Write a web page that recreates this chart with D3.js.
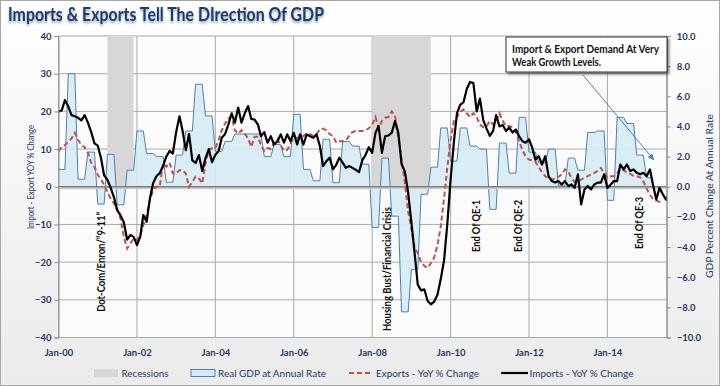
<!DOCTYPE html>
<html><head><meta charset="utf-8">
<script src="https://cdn.jsdelivr.net/npm/d3@7"></script>
<style>body{margin:0;background:#fff}svg{display:block}</style>
</head><body>
<svg id="c" width="720" height="386"></svg>
<script>
// ---------------- DATA ----------------
const firstMonth = "2000-01-01";
const lastAxisDate = "2015-07-07";
// Imports - YoY % change, monthly from Jan 2000
const importsYoY = [
 19.9,20.3,23.0,21.3,19.0,18.7,18.3,17.6,19.0,17.0,14.5,11.5,
 10.9,7.5,3.0,1.8,-0.3,-2.8,-6.2,-7.6,-9.5,-14.0,-12.8,-13.3,
 -15.5,-13.2,-7.5,-9.3,-3.2,1.0,2.8,3.6,5.5,8.0,9.5,8.8,
 14.5,18.7,15.0,9.7,14.0,7.0,6.3,8.4,4.2,7.5,10.0,6.5,
 8.5,9.5,13.0,14.0,16.5,19.5,17.0,21.0,17.0,19.5,21.4,18.0,
 17.8,16.5,13.4,14.5,11.7,13.4,11.2,12.0,13.9,11.7,13.9,12.1,
 14.3,11.2,13.9,11.2,13.9,13.4,13.0,13.9,10.8,5.5,6.8,7.7,
 4.6,5.9,7.7,6.4,5.0,5.5,5.0,4.5,3.9,7.0,8.5,10.5,
 9.0,14.3,16.1,9.0,13.4,13.6,14.3,17.4,14.3,6.0,4.0,-1.5,
 -9.5,-18.0,-26.0,-27.5,-27.2,-30.3,-31.2,-30.5,-28.6,-24.5,-19.5,-10.0,
 2.0,12.0,19.5,21.8,22.4,26.0,27.8,27.5,20.0,23.4,17.7,15.5,
 13.5,14.8,19.0,16.0,16.4,14.8,15.7,14.4,15.2,13.4,12.1,11.7,
 12.6,10.3,7.2,8.1,5.9,8.1,2.8,1.5,1.1,1.5,0.6,1.5,
 0.2,0.6,-0.3,3.3,-4.7,-0.7,0.2,-0.7,0.6,1.1,1.1,3.3,
 -0.3,0.6,1.5,1.5,5.9,4.6,5.9,4.2,4.6,3.7,3.3,3.7,
 2.8,4.6,0.6,-3.4,-0.3,-2.0,-3.4,-2.0
];
// Exports - YoY % change, monthly from Jan 2000
const exportsYoY = [
 9.4,10.6,11.1,11.9,12.8,14.3,12.5,11.0,10.5,9.0,6.3,5.2,
 3.2,1.9,0.5,-1.5,-3.1,-4.4,-6.2,-8.4,-13.3,-16.4,-15.0,-13.7,
 -14.1,-12.8,-10.2,-7.5,-3.5,-0.9,0.0,0.0,6.2,5.3,6.4,3.5,
 3.5,4.4,4.4,3.5,0.0,1.3,2.7,2.2,0.9,6.2,9.7,10.2,
 10.2,12.4,15.0,16.8,18.1,18.6,15.0,14.1,15.0,14.1,12.8,10.6,
 13.3,13.3,11.1,9.5,10.3,10.0,11.5,12.6,11.0,9.5,9.8,11.5,
 13.0,13.0,12.8,13.5,14.0,14.0,13.5,14.0,15.2,15.4,15.0,14.0,
 13.4,11.7,12.1,12.1,12.3,13.5,14.5,14.8,14.8,14.8,15.0,15.5,
 16.5,18.5,15.5,17.5,18.3,18.5,20.0,18.8,13.0,7.2,1.0,-6.5,
 -11.3,-16.4,-17.5,-20.0,-21.0,-21.5,-20.3,-18.8,-15.5,-10.5,-3.0,5.0,
 12.5,17.5,18.5,20.0,20.5,19.5,18.5,19.5,18.5,16.5,15.8,16.0,
 17.5,16.5,17.4,19.5,17.5,16.1,16.1,15.8,14.5,12.0,9.8,8.0,
 7.2,7.0,6.6,5.2,3.8,2.8,2.1,1.9,2.2,2.6,3.3,4.6,
 4.0,2.3,1.3,1.5,1.9,2.4,2.8,3.3,3.7,4.2,5.0,3.7,
 2.4,2.8,2.8,3.5,4.8,4.4,3.8,3.4,2.9,2.8,2.5,1.5,
 -0.5,-2.2,-3.2,-3.7,-4.0,-4.1
];
// Real GDP at annual rate, quarterly from 2000 Q1
const gdpQuarterly = [
 1.15,7.5,0.5,2.3,
 -1.15,2.15,-1.2,1.1,
 3.7,2.2,2.0,0.3,
 2.1,3.7,6.8,4.7,
 2.35,3.0,3.5,3.5,
 3.5,2.0,2.8,2.0,
 4.8,1.15,0.4,3.15,
 0.27,3.0,2.7,1.5,
 -2.7,1.9,-1.95,-8.3,
 -5.5,-0.5,1.3,3.9,
 1.7,3.9,2.7,2.5,
 -1.5,2.9,0.9,4.6,
 2.3,1.6,2.5,0.1,
 1.9,1.1,3.6,3.7,
 -0.9,4.6,4.2,2.1,
 0.6
];
const recessions = [["2001-04-01","2001-11-30"],["2008-01-01","2009-06-30"]];
const leftTicks = [40,30,20,10,0,-10,-20,-30,-40];
const rightTicks = [10,8,6,4,2,0,-2,-4,-6,-8,-10];
const xTickDates = ["2000-01-01","2002-01-01","2004-01-01","2006-01-01","2008-01-01","2010-01-01","2012-01-01","2014-01-01"];
const eventLabels = ["Dot-Com/Enron/\u201C9-11\u201D","Housing Bust/Financial Crisis","End Of QE-1","End Of QE-2","End Of QE-3"];
const eventDates = ["2001-03-05","2008-06-28","2010-10-06","2011-11-01","2014-11-24"];
const eventBottoms = [-33.2,-38.3,-17.3,-17.3,-16.5];
const titleText = "Imports & Exports Tell The DIrection Of GDP";
const calloutLines = ["Import & Export Demand At Very","Weak Growth Levels."];
const legendLabels = ["Recessions","Real GDP at Annual Rate","Exports - YoY % Change","Imports - YoY % Change"];

// ---------------- CHART ----------------
const parse = d3.utcParse("%Y-%m-%d");
const m0 = parse(firstMonth);
const monthDate = i => d3.utcMonth.offset(m0, i);
const navy = "#1f3864";
const font = "Lato, 'Open Sans', sans-serif";

const svg = d3.select("#c");
const W = 720, H = 386;
const plot = {l:58.5, r:666.7, t:36, b:337.5};

const defs = svg.append("defs");
const bg = defs.append("linearGradient").attr("id","bg").attr("x1",0).attr("y1",0).attr("x2",0).attr("y2",1);
bg.append("stop").attr("offset","0%").attr("stop-color","#ffffff");
bg.append("stop").attr("offset","100%").attr("stop-color","#ebebeb");
const sh = defs.append("filter").attr("id","tsh").attr("x","-5%").attr("y","-20%").attr("width","110%").attr("height","160%");
sh.append("feDropShadow").attr("dx",0).attr("dy",2).attr("stdDeviation",1.2).attr("flood-color","#1f3864").attr("flood-opacity",0.45);
const bsh = defs.append("filter").attr("id","bsh").attr("x","-10%").attr("y","-20%").attr("width","130%").attr("height","160%");
bsh.append("feDropShadow").attr("dx",2).attr("dy",2).attr("stdDeviation",1.2).attr("flood-color","#000").attr("flood-opacity",0.45);
defs.append("marker").attr("id","arr").attr("viewBox","0 0 10 10").attr("refX",9).attr("refY",5)
  .attr("markerWidth",7).attr("markerHeight",7).attr("orient","auto-start-reverse")
  .append("path").attr("d","M0,1 L10,5 L0,9 z").attr("fill","#4a7ebb");
defs.append("clipPath").attr("id","clip").append("rect")
  .attr("x",plot.l).attr("y",plot.t).attr("width",plot.r-plot.l).attr("height",plot.b-plot.t);

svg.append("rect").attr("x",0.5).attr("y",0.5).attr("width",W-1).attr("height",H-1)
  .attr("fill","url(#bg)").attr("stroke","#a6a6a6");

// Title
svg.append("text").attr("x",8).attr("y",21).text(titleText)
  .attr("font-family",font).attr("font-weight","bold").attr("font-size",19)
  .attr("fill","#1f3a6e").attr("textLength",316).attr("lengthAdjust","spacingAndGlyphs")
  .attr("filter","url(#tsh)");

// Scales
const x = d3.scaleUtc().domain([m0, parse(lastAxisDate)]).range([plot.l, plot.r]);
const yL = d3.scaleLinear().domain([-40,40]).range([plot.b, plot.t]);
const yR = d3.scaleLinear().domain([-10,10]).range([plot.b, plot.t]);

svg.append("rect").attr("x",plot.l).attr("y",plot.t).attr("width",plot.r-plot.l).attr("height",plot.b-plot.t)
  .attr("fill","#fbfbfb");

// Gridlines
const grid = svg.append("g");
grid.selectAll("line.h").data(leftTicks).join("line")
  .attr("x1",plot.l).attr("x2",plot.r).attr("y1",d=>yL(d)).attr("y2",d=>yL(d))
  .attr("stroke","#a9a9a9").attr("stroke-width",1);
grid.selectAll("line.v").data(xTickDates).join("line")
  .attr("x1",d=>x(parse(d))).attr("x2",d=>x(parse(d))).attr("y1",plot.t).attr("y2",plot.b)
  .attr("stroke","#a9a9a9").attr("stroke-width",1);
grid.append("line").attr("x1",plot.r).attr("x2",plot.r).attr("y1",plot.t).attr("y2",plot.b)
  .attr("stroke","#a9a9a9");

const g = svg.append("g").attr("clip-path","url(#clip)");
// Recessions (from 0 up to top)
g.selectAll("rect.rec").data(recessions).join("rect")
  .attr("x",d=>x(parse(d[0]))).attr("width",d=>x(parse(d[1]))-x(parse(d[0])))
  .attr("y",yL(40)).attr("height",yL(0)-yL(40)).attr("fill","#d7d7d7");

// GDP area (quarter value held for its 3 months)
const gdpMonthly = [];
gdpQuarterly.forEach((v,q)=>{ for(let k=0;k<3;k++) gdpMonthly.push({d:monthDate(q*3+k), v}); });
g.append("path").datum(gdpMonthly)
  .attr("d", d3.area().x(d=>x(d.d)).y0(yR(0)).y1(d=>yR(d.v)))
  .attr("fill","#d6ebf3").attr("fill-opacity",0.9);
g.append("path").datum(gdpMonthly)
  .attr("d", d3.line().x(d=>x(d.d)).y(d=>yR(d.v)))
  .attr("fill","none").attr("stroke","#4f7fae").attr("stroke-width",1);

// Zero line
g.append("line").attr("x1",plot.l).attr("x2",plot.r).attr("y1",yL(0)+1.5).attr("y2",yL(0)+1.5)
  .attr("stroke","#cfcfcf").attr("stroke-width",2);
g.append("line").attr("x1",plot.l).attr("x2",plot.r).attr("y1",yL(0)).attr("y2",yL(0))
  .attr("stroke","#7f7f7f").attr("stroke-width",1.3);

// Lines
const line = d3.line().x((d,i)=>x(monthDate(i))).y(d=>yL(d));
g.append("path").datum(exportsYoY).attr("d",line).attr("fill","none")
  .attr("stroke","#c0504d").attr("stroke-width",2).attr("stroke-dasharray","5,3");
g.append("path").datum(importsYoY).attr("d",line).attr("fill","none")
  .attr("stroke","#000").attr("stroke-width",2.2).attr("stroke-linejoin","round");

// Axes
const axL = svg.append("g").attr("transform",`translate(${plot.l},0)`)
  .call(d3.axisLeft(yL).tickValues(leftTicks).tickSize(4).tickPadding(3).tickFormat(d3.format("d")));
const axR = svg.append("g").attr("transform",`translate(${plot.r},0)`)
  .call(d3.axisRight(yR).tickValues(rightTicks).tickSize(4).tickPadding(6).tickFormat(d3.format(".1f")));
const axB = svg.append("g").attr("transform",`translate(0,${plot.b})`)
  .call(d3.axisBottom(x).tickValues(xTickDates.map(parse)).tickSize(0).tickPadding(12).tickFormat(d3.utcFormat("%b-%y")));
[axL,axR,axB].forEach(a=>{
  a.select(".domain").attr("stroke","#8c8c8c");
  a.selectAll(".tick line").attr("stroke","#8c8c8c");
  a.selectAll("text").attr("fill",navy).attr("font-family",font).attr("font-size",9.5).attr("font-weight","bold");
});
axB.select(".domain").remove();

// Axis titles
svg.append("text").attr("transform","translate(34,177) rotate(-90)").attr("text-anchor","middle")
  .text("Import - Export YOY % Change").attr("font-family",font).attr("font-size",9.5)
  .attr("fill",navy).attr("textLength",104).attr("lengthAdjust","spacingAndGlyphs");
svg.append("text").attr("transform","translate(713,196) rotate(-90)").attr("text-anchor","middle")
  .text("GDP Percent Change At Annual Rate").attr("font-family",font).attr("font-size",9.5)
  .attr("fill",navy).attr("textLength",164).attr("lengthAdjust","spacingAndGlyphs");

// Event labels (rotated)
const evLen = [100,124,52,52,52];
eventLabels.forEach((t,i)=>{
  svg.append("text")
    .attr("transform",`translate(${x(parse(eventDates[i]))},${yL(eventBottoms[i])}) rotate(-90)`)
    .text(t).attr("font-family",font).attr("font-size",10.5).attr("font-weight","bold").attr("fill","#111")
    .attr("textLength",evLen[i]).attr("lengthAdjust","spacingAndGlyphs");
});

// Callout
svg.append("rect").attr("x",506).attr("y",37).attr("width",161).attr("height",35)
  .attr("fill","#fff").attr("stroke","#333").attr("stroke-width",1).attr("filter","url(#bsh)");
svg.append("text").attr("x",512).attr("y",53).text(calloutLines[0])
  .attr("font-family",font).attr("font-weight","bold").attr("font-size",10.5).attr("fill","#111")
  .attr("textLength",147).attr("lengthAdjust","spacingAndGlyphs");
svg.append("text").attr("x",512).attr("y",65.5).text(calloutLines[1])
  .attr("font-family",font).attr("font-weight","bold").attr("font-size",10.5).attr("fill","#111")
  .attr("textLength",89).attr("lengthAdjust","spacingAndGlyphs");
svg.append("line").attr("x1",583).attr("y1",75).attr("x2",654).attr("y2",160)
  .attr("stroke","#4a7ebb").attr("stroke-width",1).attr("marker-end","url(#arr)");

// Legend
const lg = svg.append("g");
const ly = 373;
lg.append("rect").attr("x",94).attr("y",ly-4).attr("width",24).attr("height",8).attr("fill","#d7d7d7");
lg.append("rect").attr("x",191).attr("y",ly-3.5).attr("width",24).attr("height",7).attr("fill","#d6ebf3").attr("stroke","#4f7fae");
lg.append("line").attr("x1",349).attr("x2",373).attr("y1",ly).attr("y2",ly).attr("stroke","#c0504d").attr("stroke-width",2.2).attr("stroke-dasharray","5,3");
lg.append("line").attr("x1",501).attr("x2",528).attr("y1",ly).attr("y2",ly).attr("stroke","#000").attr("stroke-width",2.2);
const lx = [121.5,218,376,529.5], lw = [47,108,103,104];
legendLabels.forEach((t,i)=>{
  lg.append("text").attr("x",lx[i]).attr("y",ly+3.5).text(t).attr("font-family",font)
    .attr("font-size",10).attr("fill",navy).attr("textLength",lw[i]).attr("lengthAdjust","spacingAndGlyphs");
});
</script>
</body></html>
